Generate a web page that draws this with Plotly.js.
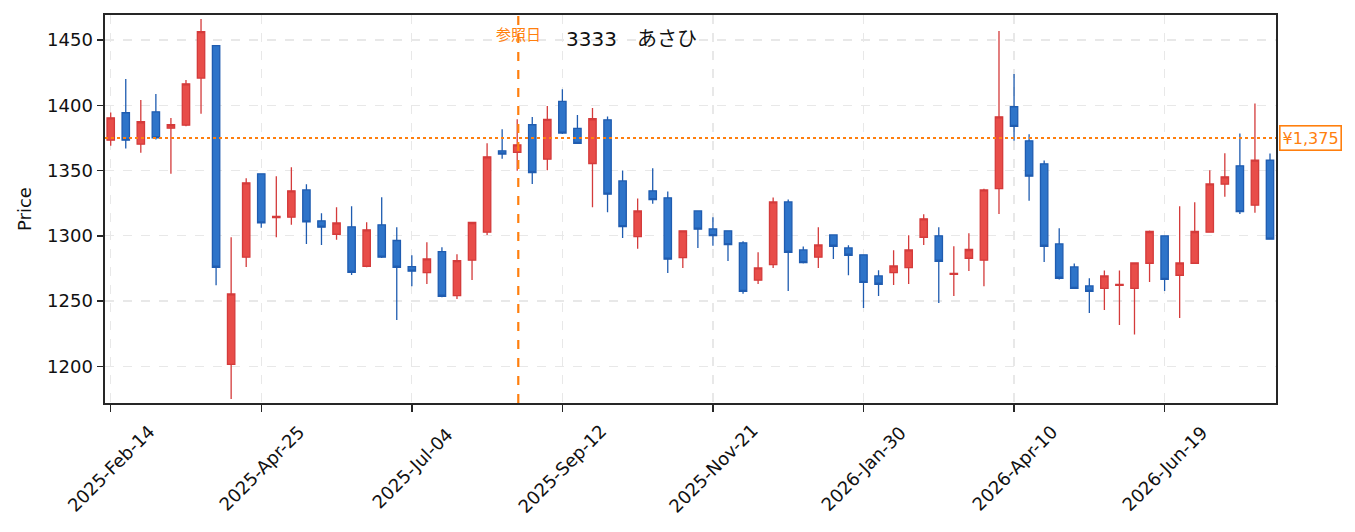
<!DOCTYPE html>
<html>
<head>
<meta charset="utf-8">
<script src="https://cdn.plot.ly/plotly-3.0.1.min.js"></script>
<style>html,body{margin:0;padding:0;background:#fff;}#chart{width:1355px;height:532px;}</style>
</head>
<body>
<div id="chart"></div>
<script>
// Weekly candles (Japanese convention: red = up, blue = down)
const dates = [
 '2025-02-14','2025-02-21','2025-02-28','2025-03-07','2025-03-14','2025-03-21','2025-03-28',
 '2025-04-04','2025-04-11','2025-04-18','2025-04-25','2025-05-02','2025-05-09','2025-05-16',
 '2025-05-23','2025-05-30','2025-06-06','2025-06-13','2025-06-20','2025-06-27','2025-07-04',
 '2025-07-11','2025-07-18','2025-07-25','2025-08-01','2025-08-08','2025-08-15','2025-08-22',
 '2025-08-29','2025-09-05','2025-09-12','2025-09-19','2025-09-26','2025-10-03','2025-10-10',
 '2025-10-17','2025-10-24','2025-10-31','2025-11-07','2025-11-14','2025-11-21','2025-11-28',
 '2025-12-05','2025-12-12','2025-12-19','2025-12-26','2026-01-02','2026-01-09','2026-01-16',
 '2026-01-23','2026-01-30','2026-02-06','2026-02-13','2026-02-20','2026-02-27','2026-03-06',
 '2026-03-13','2026-03-20','2026-03-27','2026-04-03','2026-04-10','2026-04-17','2026-04-24',
 '2026-05-01','2026-05-08','2026-05-15','2026-05-22','2026-05-29','2026-06-05','2026-06-12',
 '2026-06-19','2026-06-26','2026-07-03','2026-07-10','2026-07-17','2026-07-24','2026-07-31',
 '2026-08-07'
];
const openP = [
 1373.3,1394.3,1370.2,1395.0,1382.5,1384.8,1420.9,1445.7,1201.5,1283.6,1347.5,1314.0,1314.3,1335.2,
 1311.5,1301.2,1306.9,1276.7,1308.4,1296.4,1276.4,1271.8,1287.9,1254.2,1281.3,1302.8,1365.1,1363.9,
 1385.1,1358.7,1403.0,1382.3,1355.4,1388.9,1342.1,1299.4,1334.5,1329.1,1283.3,1319.1,1305.3,1303.8,
 1294.6,1266.0,1278.0,1326.0,1289.2,1283.6,1300.7,1290.7,1285.4,1269.3,1271.8,1275.7,1298.9,1300.0,
 1270.4,1282.8,1281.3,1336.2,1398.9,1372.8,1355.2,1293.8,1276.2,1261.6,1259.8,1262.0,1259.8,1279.0,
 1300.0,1269.8,1279.0,1302.8,1339.6,1353.6,1323.5,1358.0
];
const highP = [
 1394.5,1420.1,1404.0,1408.6,1390.2,1419.3,1466.1,1445.7,1298.9,1344.2,1347.5,1345.7,1352.6,1339.6,
 1317.3,1321.9,1322.7,1310.4,1329.6,1306.6,1285.1,1295.1,1291.3,1285.9,1310.2,1371.0,1381.7,1389.4,
 1391.0,1399.4,1412.4,1392.5,1397.9,1391.5,1350.1,1328.6,1351.8,1334.0,1304.0,1319.1,1314.3,1303.8,
 1295.9,1287.4,1329.3,1327.8,1291.8,1306.6,1300.7,1292.8,1285.4,1273.6,1289.0,1300.5,1316.6,1306.6,
 1292.0,1302.0,1336.0,1456.9,1423.9,1377.9,1357.7,1305.8,1278.7,1267.5,1273.4,1273.4,1279.2,1304.0,
 1300.0,1322.7,1325.8,1350.3,1363.3,1378.4,1401.4,1363.1
];
const lowP = [
 1369.0,1366.9,1363.6,1373.8,1347.5,1384.0,1393.5,1262.1,1175.0,1276.2,1306.1,1298.9,1308.4,1293.8,
 1293.0,1296.9,1270.0,1276.0,1283.0,1235.5,1261.3,1263.1,1253.0,1251.6,1266.2,1300.7,1359.0,1349.8,
 1339.8,1350.3,1378.0,1370.8,1321.9,1318.1,1298.4,1290.0,1324.5,1271.6,1275.4,1290.7,1292.3,1280.8,
 1255.7,1263.1,1275.4,1257.8,1278.7,1275.4,1282.3,1269.8,1244.7,1253.9,1262.4,1263.1,1293.0,1248.6,
 1253.9,1273.1,1261.3,1316.8,1372.8,1326.8,1280.0,1266.5,1259.8,1240.9,1243.2,1231.7,1224.3,1264.7,
 1257.8,1237.1,1278.5,1302.8,1329.9,1316.8,1317.6,1297.0
];
const closeP = [
 1390.4,1373.3,1387.4,1375.1,1385.1,1416.5,1456.4,1275.9,1255.5,1340.6,1309.9,1314.8,1334.5,1310.7,
 1306.6,1309.9,1272.1,1304.6,1283.6,1275.9,1272.9,1282.3,1253.7,1281.0,1310.2,1360.5,1362.6,1369.7,
 1348.5,1389.2,1378.7,1370.8,1389.7,1331.9,1307.1,1319.1,1327.8,1282.1,1303.8,1305.1,1300.2,1293.3,
 1257.5,1275.4,1326.0,1287.4,1279.5,1293.0,1292.0,1285.1,1264.4,1262.9,1276.9,1289.2,1313.0,1280.5,
 1271.2,1289.5,1335.2,1391.2,1383.8,1345.7,1292.0,1267.5,1259.8,1257.5,1269.3,1262.8,1279.2,1303.3,
 1266.7,1279.2,1303.3,1339.8,1345.2,1318.6,1358.0,1297.4
];
const tickVals = ['2025-02-14','2025-04-25','2025-07-04','2025-09-12','2025-11-21','2026-01-30','2026-04-10','2026-06-19'];
const tickLabels = ['2025-Feb-14','2025-Apr-25','2025-Jul-04','2025-Sep-12','2025-Nov-21','2026-Jan-30','2026-Apr-10','2026-Jun-19'];
const yTicks = [1200,1250,1300,1350,1400,1450];
const refDate = '2025-08-22 12:00';
const refPrice = 1375;
const refLabel = '¥1,375';
const refDateLabel = '参照日';
const chartTitle = '3333\u3000あさひ';

const ORANGE = '#ff7f0e';
const FONT = 'DejaVu Sans, Noto Sans CJK JP, sans-serif';

const trace = {
  type: 'candlestick',
  x: dates, open: openP, high: highP, low: lowP, close: closeP,
  increasing: {line: {color: '#d43b3b', width: 1.3}, fillcolor: '#e84d49'},
  decreasing: {line: {color: '#1f5cb0', width: 1.3}, fillcolor: '#2e74c9'},
  whiskerwidth: 0,
  hoverinfo: 'x+text',
  showlegend: false
};

const annotations = tickVals.map((v, i) => ({
  x: v, xref: 'x', y: -0.168, yref: 'paper',
  text: tickLabels[i], showarrow: false, textangle: -45,
  xanchor: 'center', yanchor: 'middle',
  font: {family: FONT, size: 18, color: '#111'}
}));
annotations.push({
  x: refDate, xref: 'x', y: 1469.2 - (33.5 - 15) / 1.304, yref: 'y',
  text: refDateLabel, showarrow: false, xanchor: 'center', yanchor: 'middle',
  font: {family: 'Noto Sans CJK JP, sans-serif', size: 15, color: ORANGE}
});
annotations.push({
  x: 1.0025, xref: 'paper', xanchor: 'left', y: refPrice, yref: 'y', yanchor: 'middle',
  text: refLabel, showarrow: false,
  font: {family: FONT, size: 16, color: ORANGE},
  bgcolor: '#ffffff', bordercolor: ORANGE, borderwidth: 1.6, borderpad: 2
});

const layout = {
  width: 1355, height: 532,
  margin: {l: 105, r: 79, t: 15, b: 129.3, pad: 0},
  paper_bgcolor: '#ffffff', plot_bgcolor: '#ffffff',
  font: {family: FONT, size: 18, color: '#111'},
  title: {
    text: chartTitle, x: (566 - 105) / 1171, xref: 'paper', xanchor: 'left',
    y: 1 - 39 / 532, yref: 'container', yanchor: 'middle',
    font: {family: FONT, size: 20, color: '#111'}
  },
  xaxis: {
    type: 'date',
    range: ['2025-02-11 08:24', '2026-08-09 19:00'],
    rangeslider: {visible: false},
    tickvals: tickVals, showticklabels: false,
    ticks: 'outside', ticklen: 6.5, tickwidth: 1.4, tickcolor: '#262626',
    showgrid: true, gridcolor: '#e8e8e8', gridwidth: 1.3, griddash: 'dash',
    showline: true, linecolor: '#262626', linewidth: 2, mirror: true,
    zeroline: false, fixedrange: true
  },
  yaxis: {
    range: [1171.9, 1469.2],
    tickvals: yTicks,
    ticks: 'outside', ticklen: 6.5, tickwidth: 1.4, tickcolor: '#262626',
    tickfont: {family: FONT, size: 18, color: '#111'},
    showgrid: true, gridcolor: '#e8e8e8', gridwidth: 1.3, griddash: 'dash',
    showline: true, linecolor: '#262626', linewidth: 2, mirror: true,
    zeroline: false,
    title: {text: 'Price', font: {family: FONT, size: 18, color: '#111'}, standoff: 11}
  },
  shapes: [
    {type: 'line', xref: 'paper', x0: 0, x1: 1, yref: 'y', y0: refPrice, y1: refPrice,
     line: {color: ORANGE, width: 2, dash: 'dot'}},
    {type: 'line', xref: 'x', x0: refDate, x1: refDate, yref: 'paper', y0: 0, y1: 1,
     line: {color: ORANGE, width: 2.2, dash: 'dash'}}
  ],
  annotations: annotations,
  showlegend: false
};

Plotly.newPlot('chart', [trace], layout, {displayModeBar: false, staticPlot: true});
</script>
</body>
</html>
